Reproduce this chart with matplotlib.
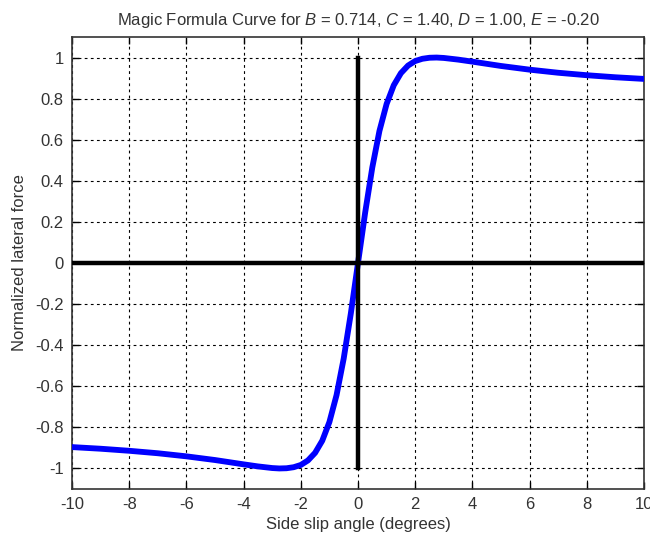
import matplotlib
matplotlib.use("Agg")
import matplotlib.pyplot as plt

# values (slip angle in degrees -> normalized force)
slip_pos = [0.0, 0.25, 0.5, 0.75, 1.0, 1.25, 1.5, 1.75, 2.0, 2.25, 2.5, 2.75,
            3.0, 3.5, 4.0, 5.0, 6.0, 7.0, 8.0, 9.0, 10.0]
force_pos = [0.0, 0.245, 0.465, 0.643, 0.774, 0.865, 0.924, 0.961, 0.983, 0.994,
             0.999, 1.000, 0.998, 0.990, 0.980, 0.959, 0.941, 0.926, 0.914, 0.904, 0.896]
slip_neg = [-10.0, -9.0, -8.0, -7.0, -6.0, -5.0, -4.0, -3.5, -3.0, -2.75, -2.5,
            -2.25, -2.0, -1.75, -1.5, -1.25, -1.0, -0.75, -0.5, -0.25]
force_neg = [-0.896, -0.904, -0.914, -0.926, -0.941, -0.959, -0.980, -0.990, -0.998,
             -1.000, -0.999, -0.994, -0.983, -0.961, -0.924, -0.865, -0.774, -0.643,
             -0.465, -0.245]

slip = slip_neg + slip_pos
force = force_neg + force_pos

xticks = [-10, -8, -6, -4, -2, 0, 2, 4, 6, 8, 10]
yticks = [-1, -0.8, -0.6, -0.4, -0.2, 0, 0.2, 0.4, 0.6, 0.8, 1]
ytick_labels = ["-1", "-0.8", "-0.6", "-0.4", "-0.2", "0", "0.2", "0.4", "0.6", "0.8", "1"]

plt.rcParams["font.family"] = ["Liberation Sans", "DejaVu Sans"]
plt.rcParams["axes.unicode_minus"] = False
plt.rcParams["mathtext.fontset"] = "custom"
plt.rcParams["mathtext.rm"] = "Liberation Sans"
plt.rcParams["mathtext.it"] = "Liberation Sans:italic"

fig = plt.figure(figsize=(6.5, 5.39), dpi=100)
ax = fig.add_axes([72 / 650, 1 - 489 / 539, (644 - 72) / 650, (489 - 37) / 539])

ax.plot(slip, force, color="#0000ff", linewidth=4.2, zorder=3)
ax.axhline(0, color="black", linewidth=3.2, zorder=4)
ax.plot([0, 0], [-1, 1], color="black", linewidth=3.2, zorder=4)

ax.set_xlim(-10, 10)
ax.set_ylim(-1.1, 1.1)
ax.set_xticks(xticks)
ax.set_xticklabels([str(t) for t in xticks])
ax.set_yticks(yticks)
ax.set_yticklabels(ytick_labels)
ax.grid(True, color="black", linestyle=(0, (2.5, 3)), linewidth=0.8)
ax.tick_params(direction="in", length=5, width=1, top=True, right=True,
               labelsize=12, labelcolor="#333333", pad=6)
for s in ax.spines.values():
    s.set_linewidth(1.2)
    s.set_color("#333333")

ax.set_title("Magic Formula Curve for $\\it{B}$ = 0.714, $\\it{C}$ = 1.40, "
             "$\\it{D}$ = 1.00, $\\it{E}$ = -0.20", fontsize=12, color="#333333", pad=9)
ax.set_xlabel("Side slip angle (degrees)", fontsize=12, color="#333333", labelpad=3)
ax.set_ylabel("Normalized lateral force", fontsize=12, color="#333333", labelpad=6)

fig.savefig("out.png", dpi=100)
